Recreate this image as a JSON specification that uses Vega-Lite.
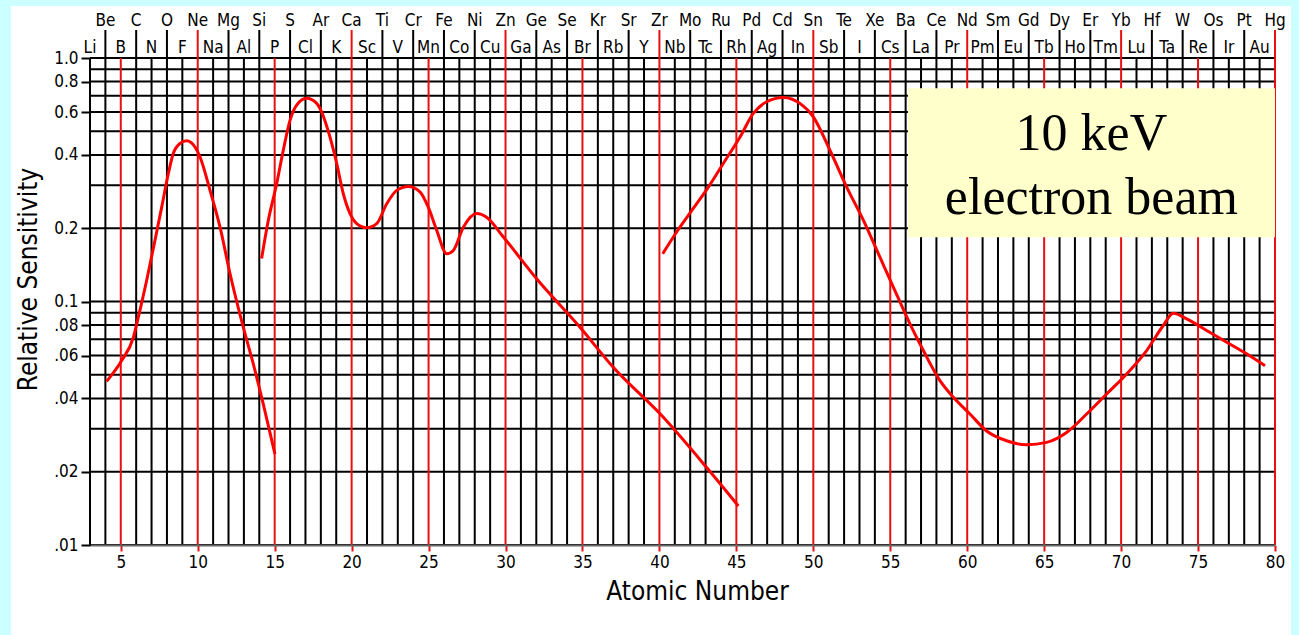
{
  "$schema": "https://vega.github.io/schema/vega-lite/v6.json",
  "width": 1185,
  "height": 487,
  "autosize": {"type": "none"},
  "padding": {"left": 90, "top": 58, "right": 24, "bottom": 90},
  "background": "#ccffff",
  "config": {
    "view": {"stroke": null},
    "font": "Liberation Sans Narrow, DejaVu Sans Condensed, sans-serif",
    "axis": {
      "labelFont": "Liberation Sans Narrow, DejaVu Sans Condensed, sans-serif",
      "titleFont": "Liberation Sans Narrow, DejaVu Sans Condensed, sans-serif",
      "labelColor": "#000",
      "titleColor": "#000",
      "titleFontWeight": "normal"
    }
  },
  "datasets": {
    "sensitivity": [
      {"seg": "A", "Z": 4.08, "s": 0.047},
      {"seg": "A", "Z": 5.06, "s": 0.0572},
      {"seg": "A", "Z": 5.82, "s": 0.0713},
      {"seg": "A", "Z": 6.14, "s": 0.0862},
      {"seg": "A", "Z": 6.68, "s": 0.122},
      {"seg": "A", "Z": 7.22, "s": 0.178},
      {"seg": "A", "Z": 7.66, "s": 0.244},
      {"seg": "A", "Z": 8.09, "s": 0.335},
      {"seg": "A", "Z": 8.41, "s": 0.405},
      {"seg": "A", "Z": 8.85, "s": 0.446},
      {"seg": "A", "Z": 9.28, "s": 0.457},
      {"seg": "A", "Z": 9.82, "s": 0.431},
      {"seg": "A", "Z": 10.15, "s": 0.392},
      {"seg": "A", "Z": 10.8, "s": 0.286},
      {"seg": "A", "Z": 11.45, "s": 0.202},
      {"seg": "A", "Z": 12.1, "s": 0.13},
      {"seg": "A", "Z": 12.96, "s": 0.0784},
      {"seg": "A", "Z": 13.61, "s": 0.0554},
      {"seg": "A", "Z": 14.26, "s": 0.0379},
      {"seg": "A", "Z": 15.02, "s": 0.0236},
      {"seg": "B", "Z": 14.15, "s": 0.15},
      {"seg": "B", "Z": 14.59, "s": 0.216},
      {"seg": "B", "Z": 15.13, "s": 0.305},
      {"seg": "B", "Z": 15.56, "s": 0.418},
      {"seg": "B", "Z": 16.0, "s": 0.556},
      {"seg": "B", "Z": 16.43, "s": 0.641},
      {"seg": "B", "Z": 17.08, "s": 0.683},
      {"seg": "B", "Z": 17.73, "s": 0.651},
      {"seg": "B", "Z": 18.05, "s": 0.601},
      {"seg": "B", "Z": 18.59, "s": 0.474},
      {"seg": "B", "Z": 19.03, "s": 0.369},
      {"seg": "B", "Z": 19.46, "s": 0.277},
      {"seg": "B", "Z": 19.89, "s": 0.23},
      {"seg": "B", "Z": 20.33, "s": 0.209},
      {"seg": "B", "Z": 20.98, "s": 0.201},
      {"seg": "B", "Z": 21.63, "s": 0.209},
      {"seg": "B", "Z": 22.28, "s": 0.252},
      {"seg": "B", "Z": 22.93, "s": 0.286},
      {"seg": "B", "Z": 23.68, "s": 0.297},
      {"seg": "B", "Z": 24.44, "s": 0.282},
      {"seg": "B", "Z": 24.98, "s": 0.244},
      {"seg": "B", "Z": 25.53, "s": 0.196},
      {"seg": "B", "Z": 26.18, "s": 0.157},
      {"seg": "B", "Z": 26.61, "s": 0.162},
      {"seg": "B", "Z": 27.26, "s": 0.202},
      {"seg": "B", "Z": 28.13, "s": 0.23},
      {"seg": "B", "Z": 28.77, "s": 0.222},
      {"seg": "B", "Z": 29.86, "s": 0.184},
      {"seg": "B", "Z": 32.02, "s": 0.124},
      {"seg": "B", "Z": 34.84, "s": 0.0784},
      {"seg": "B", "Z": 37.0, "s": 0.0537},
      {"seg": "B", "Z": 40.15, "s": 0.034},
      {"seg": "B", "Z": 43.07, "s": 0.0208},
      {"seg": "B", "Z": 45.13, "s": 0.01446},
      {"seg": "C", "Z": 40.21, "s": 0.157},
      {"seg": "C", "Z": 41.12, "s": 0.193},
      {"seg": "C", "Z": 42.2, "s": 0.241},
      {"seg": "C", "Z": 43.18, "s": 0.295},
      {"seg": "C", "Z": 44.15, "s": 0.369},
      {"seg": "C", "Z": 45.24, "s": 0.474},
      {"seg": "C", "Z": 46.1, "s": 0.592},
      {"seg": "C", "Z": 46.97, "s": 0.661},
      {"seg": "C", "Z": 48.05, "s": 0.689},
      {"seg": "C", "Z": 49.13, "s": 0.651},
      {"seg": "C", "Z": 50.0, "s": 0.573},
      {"seg": "C", "Z": 51.08, "s": 0.418},
      {"seg": "C", "Z": 52.17, "s": 0.295},
      {"seg": "C", "Z": 53.25, "s": 0.216},
      {"seg": "C", "Z": 54.33, "s": 0.152},
      {"seg": "C", "Z": 55.2, "s": 0.1146},
      {"seg": "C", "Z": 56.28, "s": 0.081},
      {"seg": "C", "Z": 57.15, "s": 0.0629},
      {"seg": "C", "Z": 58.23, "s": 0.0473},
      {"seg": "C", "Z": 59.1, "s": 0.0404},
      {"seg": "C", "Z": 60.18, "s": 0.0345},
      {"seg": "C", "Z": 61.26, "s": 0.0294},
      {"seg": "C", "Z": 62.56, "s": 0.0268},
      {"seg": "C", "Z": 63.86, "s": 0.0258},
      {"seg": "C", "Z": 65.16, "s": 0.0264},
      {"seg": "C", "Z": 66.46, "s": 0.029},
      {"seg": "C", "Z": 67.76, "s": 0.0345},
      {"seg": "C", "Z": 69.06, "s": 0.0417},
      {"seg": "C", "Z": 70.36, "s": 0.0504},
      {"seg": "C", "Z": 71.66, "s": 0.0629},
      {"seg": "C", "Z": 72.74, "s": 0.0797},
      {"seg": "C", "Z": 73.39, "s": 0.0895},
      {"seg": "C", "Z": 74.26, "s": 0.0849},
      {"seg": "C", "Z": 75.56, "s": 0.076},
      {"seg": "C", "Z": 76.86, "s": 0.068},
      {"seg": "C", "Z": 78.15, "s": 0.061},
      {"seg": "C", "Z": 79.35, "s": 0.0545}
    ],
    "elements": [
      {"Z": 3, "sym": "Li"}, {"Z": 4, "sym": "Be"}, {"Z": 5, "sym": "B"}, {"Z": 6, "sym": "C"},
      {"Z": 7, "sym": "N"}, {"Z": 8, "sym": "O"}, {"Z": 9, "sym": "F"}, {"Z": 10, "sym": "Ne"},
      {"Z": 11, "sym": "Na"}, {"Z": 12, "sym": "Mg"}, {"Z": 13, "sym": "Al"}, {"Z": 14, "sym": "Si"},
      {"Z": 15, "sym": "P"}, {"Z": 16, "sym": "S"}, {"Z": 17, "sym": "Cl"}, {"Z": 18, "sym": "Ar"},
      {"Z": 19, "sym": "K"}, {"Z": 20, "sym": "Ca"}, {"Z": 21, "sym": "Sc"}, {"Z": 22, "sym": "Ti"},
      {"Z": 23, "sym": "V"}, {"Z": 24, "sym": "Cr"}, {"Z": 25, "sym": "Mn"}, {"Z": 26, "sym": "Fe"},
      {"Z": 27, "sym": "Co"}, {"Z": 28, "sym": "Ni"}, {"Z": 29, "sym": "Cu"}, {"Z": 30, "sym": "Zn"},
      {"Z": 31, "sym": "Ga"}, {"Z": 32, "sym": "Ge"}, {"Z": 33, "sym": "As"}, {"Z": 34, "sym": "Se"},
      {"Z": 35, "sym": "Br"}, {"Z": 36, "sym": "Kr"}, {"Z": 37, "sym": "Rb"}, {"Z": 38, "sym": "Sr"},
      {"Z": 39, "sym": "Y"}, {"Z": 40, "sym": "Zr"}, {"Z": 41, "sym": "Nb"}, {"Z": 42, "sym": "Mo"},
      {"Z": 43, "sym": "Tc"}, {"Z": 44, "sym": "Ru"}, {"Z": 45, "sym": "Rh"}, {"Z": 46, "sym": "Pd"},
      {"Z": 47, "sym": "Ag"}, {"Z": 48, "sym": "Cd"}, {"Z": 49, "sym": "In"}, {"Z": 50, "sym": "Sn"},
      {"Z": 51, "sym": "Sb"}, {"Z": 52, "sym": "Te"}, {"Z": 53, "sym": "I"}, {"Z": 54, "sym": "Xe"},
      {"Z": 55, "sym": "Cs"}, {"Z": 56, "sym": "Ba"}, {"Z": 57, "sym": "La"}, {"Z": 58, "sym": "Ce"},
      {"Z": 59, "sym": "Pr"}, {"Z": 60, "sym": "Nd"}, {"Z": 61, "sym": "Pm"}, {"Z": 62, "sym": "Sm"},
      {"Z": 63, "sym": "Eu"}, {"Z": 64, "sym": "Gd"}, {"Z": 65, "sym": "Tb"}, {"Z": 66, "sym": "Dy"},
      {"Z": 67, "sym": "Ho"}, {"Z": 68, "sym": "Er"}, {"Z": 69, "sym": "Tm"}, {"Z": 70, "sym": "Yb"},
      {"Z": 71, "sym": "Lu"}, {"Z": 72, "sym": "Hf"}, {"Z": 73, "sym": "Ta"}, {"Z": 74, "sym": "W"},
      {"Z": 75, "sym": "Re"}, {"Z": 76, "sym": "Os"}, {"Z": 77, "sym": "Ir"}, {"Z": 78, "sym": "Pt"},
      {"Z": 79, "sym": "Au"}, {"Z": 80, "sym": "Hg"}
    ],
    "levels": [
      {"v": 0.01}, {"v": 0.02}, {"v": 0.03}, {"v": 0.04}, {"v": 0.05}, {"v": 0.06},
      {"v": 0.07}, {"v": 0.08}, {"v": 0.09}, {"v": 0.1}, {"v": 0.2}, {"v": 0.3},
      {"v": 0.4}, {"v": 0.5}, {"v": 0.6}, {"v": 0.7}, {"v": 0.8}, {"v": 0.9}, {"v": 1.0}
    ]
  },
  "layer": [
    {
      "description": "white sheet behind the chart",
      "data": {"values": [{}]},
      "mark": {"type": "rect", "color": "#ffffff"},
      "encoding": {
        "x": {"datum": -2.13, "scale": {"domain": [3, 80], "nice": false, "zero": false}},
        "x2": {"datum": 81.04},
        "y": {"datum": 1.637, "scale": {"type": "log", "domain": [0.01, 1], "nice": false}},
        "y2": {"datum": 0.004}
      }
    },
    {
      "description": "horizontal grid, one line per decade step",
      "data": {"name": "levels"},
      "mark": {"type": "rule", "color": "#000", "strokeWidth": 2},
      "encoding": {
        "y": {
          "field": "v", "type": "quantitative",
          "scale": {"type": "log", "domain": [0.01, 1], "nice": false},
          "axis": {
            "title": "Relative Sensitivity",
            "values": [0.01, 0.02, 0.04, 0.06, 0.08, 0.1, 0.2, 0.4, 0.6, 0.8, 1.0],
            "labelExpr": "datum.value >= 0.1 ? format(datum.value, '.1f') : replace(format(datum.value, '.2f'), '0.', '.')",
            "grid": false,
            "domain": false,
            "tickColor": "#000",
            "tickSize": 9,
            "tickWidth": 2,
            "labelFontSize": 17,
            "labelPadding": 3,
            "labelFlush": false,
            "titleFontSize": 26,
            "titlePadding": 12,
            "titleY": 221,
            "zindex": 1
          }
        },
        "x": {
          "datum": 3,
          "scale": {"domain": [3, 80], "nice": false, "zero": false},
          "axis": {
            "title": "Atomic Number",
            "values": [5, 10, 15, 20, 25, 30, 35, 40, 45, 50, 55, 60, 65, 70, 75, 80],
            "grid": false,
            "domainColor": "#666",
            "domainWidth": 2,
            "tickColor": "#e81010",
            "tickSize": 6,
            "tickWidth": 2,
            "labelFontSize": 17,
            "labelPadding": 3,
            "labelFlush": false,
            "titleFontSize": 26,
            "titlePadding": 8,
            "titleX": 607,
            "zindex": 1
          }
        },
        "x2": {"datum": 80}
      }
    },
    {
      "description": "vertical grid for odd atomic numbers",
      "data": {"name": "elements"},
      "transform": [{"filter": "datum.Z % 2 == 1"}],
      "mark": {"type": "rule", "strokeWidth": 2},
      "encoding": {
        "x": {"field": "Z", "type": "quantitative", "scale": {"domain": [3, 80], "nice": false, "zero": false}},
        "y": {"datum": 0.01, "scale": {"type": "log", "domain": [0.01, 1], "nice": false}},
        "y2": {"datum": 1.0},
        "color": {"condition": {"test": "datum.Z % 5 == 0", "value": "#e81010"}, "value": "#000"}
      }
    },
    {
      "description": "vertical grid for even atomic numbers, reaching up between the symbol rows",
      "data": {"name": "elements"},
      "transform": [{"filter": "datum.Z % 2 == 0"}],
      "mark": {"type": "rule", "strokeWidth": 2},
      "encoding": {
        "x": {"field": "Z", "type": "quantitative", "scale": {"domain": [3, 80], "nice": false, "zero": false}},
        "y": {"datum": 0.01, "scale": {"type": "log", "domain": [0.01, 1], "nice": false}},
        "y2": {"datum": 1.304},
        "color": {"condition": {"test": "datum.Z % 5 == 0", "value": "#e81010"}, "value": "#000"}
      }
    },
    {
      "description": "element symbols, even Z on the upper row",
      "data": {"name": "elements"},
      "transform": [{"filter": "datum.Z % 2 == 0"}],
      "mark": {"type": "text", "fontSize": 17, "align": "center", "baseline": "alphabetic", "color": "#000"},
      "encoding": {
        "x": {"field": "Z", "type": "quantitative", "scale": {"domain": [3, 80], "nice": false, "zero": false}},
        "y": {"datum": 1.354, "scale": {"type": "log", "domain": [0.01, 1], "nice": false}},
        "text": {"field": "sym"}
      }
    },
    {
      "description": "element symbols, odd Z on the lower row",
      "data": {"name": "elements"},
      "transform": [{"filter": "datum.Z % 2 == 1"}],
      "mark": {"type": "text", "fontSize": 17, "align": "center", "baseline": "alphabetic", "color": "#000"},
      "encoding": {
        "x": {"field": "Z", "type": "quantitative", "scale": {"domain": [3, 80], "nice": false, "zero": false}},
        "y": {"datum": 1.049, "scale": {"type": "log", "domain": [0.01, 1], "nice": false}},
        "text": {"field": "sym"}
      }
    },
    {
      "description": "sensitivity curve",
      "data": {"name": "sensitivity"},
      "mark": {"type": "line", "color": "#ff0000", "strokeWidth": 3, "interpolate": "monotone"},
      "encoding": {
        "x": {"field": "Z", "type": "quantitative", "scale": {"domain": [3, 80], "nice": false, "zero": false}},
        "y": {"field": "s", "type": "quantitative", "scale": {"type": "log", "domain": [0.01, 1], "nice": false}},
        "detail": {"field": "seg"}
      }
    },
    {
      "description": "beam energy note",
      "data": {"values": [{}]},
      "layer": [
        {
          "mark": {"type": "rect", "color": "#ffffcc"},
          "encoding": {
            "x": {"datum": 56.15, "scale": {"domain": [3, 80], "nice": false, "zero": false}},
            "x2": {"datum": 80},
            "y": {"datum": 0.752, "scale": {"type": "log", "domain": [0.01, 1], "nice": false}},
            "y2": {"datum": 0.1834}
          }
        },
        {
          "mark": {"type": "text", "text": "10 keV", "font": "Liberation Serif", "fontSize": 52, "align": "center", "baseline": "alphabetic", "color": "#000"},
          "encoding": {
            "x": {"datum": 68.07, "scale": {"domain": [3, 80], "nice": false, "zero": false}},
            "y": {"datum": 0.418, "scale": {"type": "log", "domain": [0.01, 1], "nice": false}}
          }
        },
        {
          "mark": {"type": "text", "text": "electron beam", "font": "Liberation Serif", "fontSize": 52, "align": "center", "baseline": "alphabetic", "color": "#000"},
          "encoding": {
            "x": {"datum": 68.07, "scale": {"domain": [3, 80], "nice": false, "zero": false}},
            "y": {"datum": 0.2296, "scale": {"type": "log", "domain": [0.01, 1], "nice": false}}
          }
        }
      ]
    }
  ]
}
